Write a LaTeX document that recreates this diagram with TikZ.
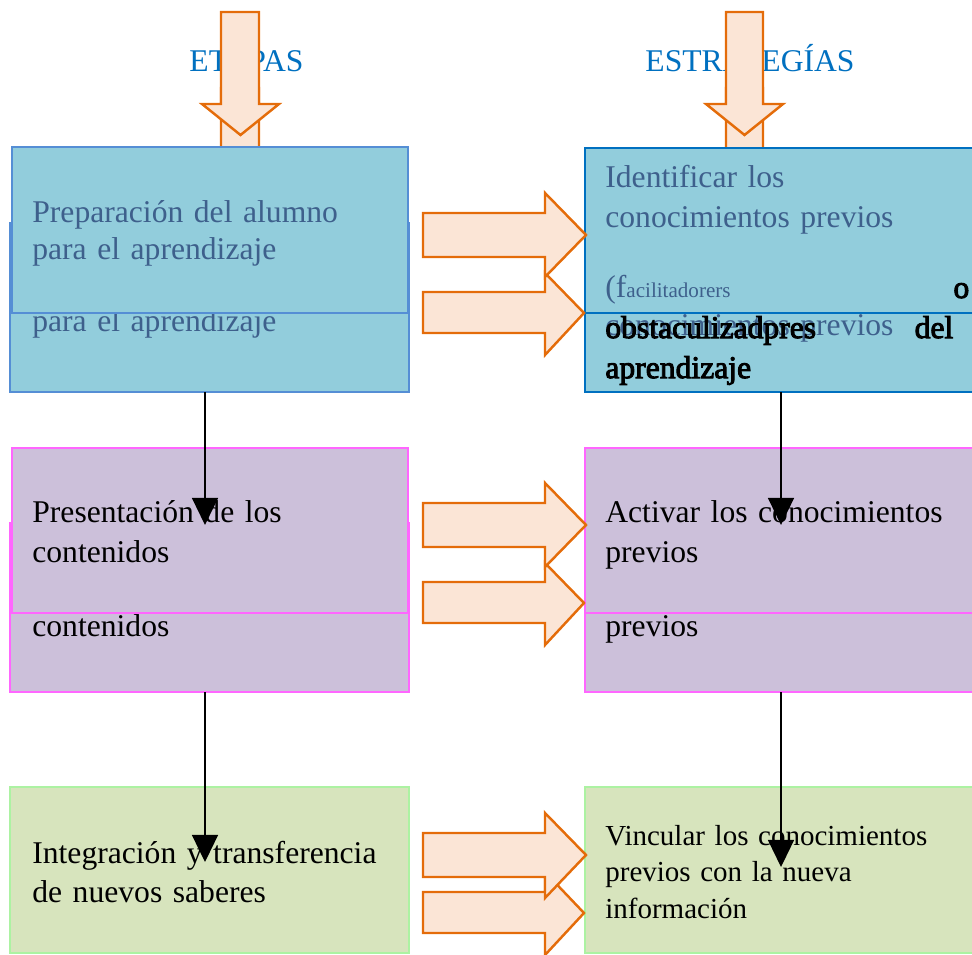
\documentclass[tikz,border=0pt]{standalone}
\usepackage{fontspec}
\setmainfont{Liberation Serif}
\newfontfamily\smearfont{Liberation Serif}[FakeBold=3]
\usetikzlibrary{arrows.meta,fit}

\begin{document}
\begin{tikzpicture}[x=0.02cm, y=-0.02cm,
  box/.style={inner sep=0pt, outer sep=0pt, line width=1.1pt},
  blueleft/.style={box, fill=customBlue, draw=customBlueEdge},
  blueright/.style={box, fill=customBlue, draw=customTitle},
  purplebox/.style={box, fill=customPurple, draw=customPink},
  greenbox/.style={box, fill=customGreen, draw=customGreenEdge},
  txt/.style={anchor=base west, inner sep=0pt, align=left, text width=7.32cm},
  stagefont/.style={font=\fontsize{18}{#1}\selectfont},
  blockarrow/.style={fill=customPeach, draw=customOrange, line width=1.4pt, line join=miter},
  link/.style={-{Triangle[length=15.4pt,width=14.8pt]}, line width=0.8pt, black}
]

\definecolor{customTitle}{HTML}{0070C0}
\definecolor{customOrange}{HTML}{E46C0A}
\definecolor{customPeach}{HTML}{FBE5D6}
\definecolor{customBlue}{HTML}{92CDDC}
\definecolor{customBlueEdge}{HTML}{558ED5}
\definecolor{customText}{HTML}{3E608C}
\definecolor{customPurple}{HTML}{CCC0DA}
\definecolor{customPink}{HTML}{FF66FF}
\definecolor{customGreen}{HTML}{D7E4BD}
\definecolor{customGreenEdge}{HTML}{ACF2A2}

\useasboundingbox (0,0) rectangle (972,955);

% Headings
\node[anchor=base, inner sep=0pt, text=customTitle, stagefont=21pt] (etapas) at (246.5,72) {ETAPAS};
\node[anchor=base, inner sep=0pt, text=customTitle, stagefont=21pt] (estrategias) at (750,72) {ESTRATEGÍAS};

% Down arrows (copy behind, then front)
\filldraw[blockarrow] (221,88) -- (259,88) -- (259,180) -- (279,180) -- (240.5,211) -- (202,180) -- (221,180) -- cycle;
\filldraw[blockarrow] (221,12) -- (259,12) -- (259,104) -- (279,104) -- (240.5,135) -- (202,104) -- (221,104) -- cycle;
\filldraw[blockarrow] (726,88) -- (763,88) -- (763,180) -- (783,180) -- (744.5,211) -- (706,180) -- (726,180) -- cycle;
\filldraw[blockarrow] (726,12) -- (763,12) -- (763,104) -- (783,104) -- (744.5,135) -- (706,104) -- (726,104) -- cycle;

% First row: Preparacion
\node[blueleft, fit={(10,223) (409,392)}] (prepback) {};
\node[txt, stagefont=21pt, text=customText] (prepbacktext) at (32,295) {Preparación del alumno\\para el aprendizaje};
\node[blueleft, fit={(12,147) (408,313)}] (prepfront) {};
\node[txt, stagefont=21pt, text=customText] (preptext) at (32,223) {Preparación del alumno\\para el aprendizaje};

% First row: Identificar
\node[blueright, fit={(585,223) (990,392)}] (identback) {};
\node[txt, stagefont=22.4pt, text=customText] (identbacktext) at (605,296) {Identificar los\\conocimientos previos};
\node[blueright, fit={(585,148) (990,313)}] (identfront) {};
\node[txt, stagefont=22.4pt, text=customText] (identtext) at (605,188) {Identificar los\\conocimientos previos\\[17.4pt](f{\fontsize{12}{14}\selectfont acilitadorers}};
\node[txt, stagefont=22.8pt, text=black] (identnote) at (605,298) {\smearfont\mbox{}\hfill o\kern0.04cm\\obstaculizadpres\hfill del\kern0.36cm\\aprendizaje};

% Second row: Presentacion
\node[purplebox, fit={(10,523) (409,692)}] (presback) {};
\node[txt, stagefont=22.8pt] (presbacktext) at (32,596) {Presentación de los\\contenidos};
\node[purplebox, fit={(12,448) (408,613)}] (presfront) {};
\node[txt, stagefont=22.8pt] (prestext) at (32,522) {Presentación de los\\contenidos};

% Second row: Activar
\node[purplebox, fit={(585,523) (990,692)}] (activback) {};
\node[txt, stagefont=22.8pt] (activbacktext) at (605,596) {Activar los conocimientos\\previos};
\node[purplebox, fit={(585,448) (990,613)}] (activfront) {};
\node[txt, stagefont=22.8pt] (activtext) at (605,522) {Activar los conocimientos\\previos};

% Third row
\node[greenbox, fit={(10,787) (409,953)}] (integ) {};
\node[txt, stagefont=22.2pt] (integtext) at (32,863) {Integración y transferencia\\de nuevos saberes};
\node[greenbox, fit={(585,787) (990,953)}] (vinc) {};
\node[txt, font=\fontsize{16.5}{20.8}\selectfont] (vinctext) at (605,845) {Vincular los conocimientos\\previos con la nueva\\información};

% Right arrows between columns (lower copy first)
\filldraw[blockarrow] (423,292) -- (545,292) -- (545,273) -- (584,313) -- (545,355) -- (545,333) -- (423,333) -- cycle;
\filldraw[blockarrow] (423,213) -- (545,213) -- (545,193) -- (586,235) -- (545,277) -- (545,257) -- (423,257) -- cycle;
\filldraw[blockarrow] (423,582) -- (545,582) -- (545,563) -- (584,603) -- (545,645) -- (545,623) -- (423,623) -- cycle;
\filldraw[blockarrow] (423,503) -- (545,503) -- (545,483) -- (586,525) -- (545,567) -- (545,547) -- (423,547) -- cycle;
\filldraw[blockarrow] (423,892) -- (545,892) -- (545,872) -- (584,913) -- (545,955) -- (545,933) -- (423,933) -- cycle;
\filldraw[blockarrow] (423,833) -- (545,833) -- (545,813) -- (586,855) -- (545,898) -- (545,877) -- (423,877) -- cycle;

% Connectors down each column
\coordinate (prepTip) at (205,525);
\coordinate (presTip) at (205,862);
\coordinate (identTip) at (781,525);
\coordinate (activTip) at (781,867);
\draw[link] (prepback.south -| prepTip) -- (prepTip);
\draw[link] (presback.south -| presTip) -- (presTip);
\draw[link] (identback.south -| identTip) -- (identTip);
\draw[link] (activback.south -| activTip) -- (activTip);

\end{tikzpicture}
\end{document}
